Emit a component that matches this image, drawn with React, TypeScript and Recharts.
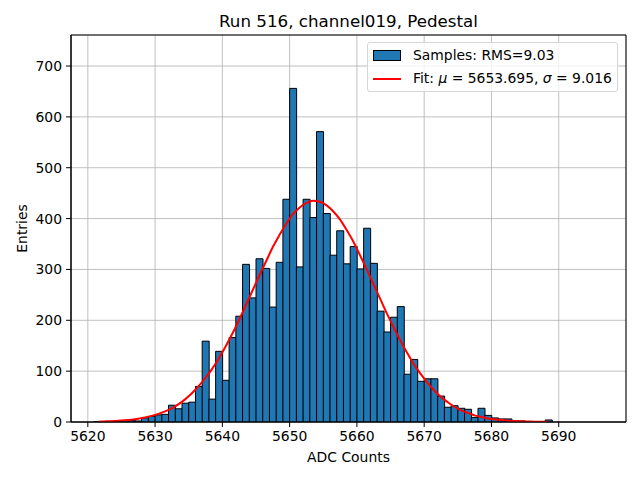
import {
  Bar,
  CartesianGrid,
  ComposedChart,
  Line,
  ReferenceArea,
  XAxis,
  YAxis,
} from 'recharts';

// left edge of each 1-count-wide ADC bin
const binStarts = [
  5621, 5622, 5623, 5624, 5625, 5626, 5627, 5628, 5629, 5630, 5631, 5632, 5633, 5634, 5635, 5636, 5637,
  5638, 5639, 5640, 5641, 5642, 5643, 5644, 5645, 5646, 5647, 5648, 5649, 5650, 5651, 5652, 5653, 5654,
  5655, 5656, 5657, 5658, 5659, 5660, 5661, 5662, 5663, 5664, 5665, 5666, 5667, 5668, 5669, 5670, 5671,
  5672, 5673, 5674, 5675, 5676, 5677, 5678, 5679, 5680, 5681, 5682, 5683, 5684, 5685, 5686, 5687, 5688,
];

const entries = [
  1, 1, 1, 1, 3, 3, 2, 8, 11, 14, 15, 33, 26, 37, 39, 70, 159,
  45, 139, 82, 166, 208, 310, 244, 321, 302, 226, 314, 438, 656, 305, 438, 402, 571,
  410, 328, 376, 311, 345, 301, 381, 312, 218, 177, 206, 227, 94, 123, 80, 85, 85,
  51, 29, 32, 27, 25, 9, 27, 13, 8, 6, 6, 3, 2, 1, 1, 1, 4,
];

// fitted gaussian read at each bin centre
const fitCurve = [
  0.7, 1.1, 1.6, 2.3, 3.3, 4.6, 6.4, 8.8, 12, 16, 21, 27, 35, 45, 57, 71, 87,
  105, 126, 149, 174, 201, 230, 259, 288, 316, 344, 368, 390, 409, 422, 431, 435, 433,
  426, 414, 398, 377, 354, 327, 299, 270, 241, 212, 185, 159, 135, 113, 94, 77, 62,
  49, 39, 30, 23, 18, 13, 10, 7, 5.2, 3.7, 2.6, 1.8, 1.3, 0.9, 0.6, 0.4, 0.3,
];

const xTicks = [5620, 5630, 5640, 5650, 5660, 5670, 5680, 5690];
const yTicks = [0, 100, 200, 300, 400, 500, 600, 700];

const xDomain: [number, number] = [5617.5, 5700];
const yDomain: [number, number] = [0, 761];

const FONT = '"DejaVu Sans", sans-serif';

const rows = binStarts.map((start, i) => ({
  x: start + 0.5,
  entries: entries[i],
  fit: fitCurve[i],
}));

function FitLegend() {
  return (
    <div
      style={{
        position: 'absolute',
        left: 367,
        top: 42,
        boxSizing: 'border-box',
        width: 251,
        height: 50,
        border: '1px solid #d6d6d6',
        borderRadius: 3,
        background: 'rgba(255,255,255,0.8)',
        fontFamily: FONT,
        fontSize: 13.9,
        color: '#000',
        padding: '1px 0 0 5px',
        lineHeight: '23px',
      }}
    >
      <div style={{ display: 'flex', alignItems: 'center' }}>
        <span
          style={{
            display: 'inline-block',
            boxSizing: 'border-box',
            width: 28,
            height: 11,
            background: '#1f77b4',
            border: '1px solid #000',
            marginRight: 12,
          }}
        />
        <span>Samples: RMS=9.03</span>
      </div>
      <div style={{ display: 'flex', alignItems: 'center' }}>
        <span
          style={{
            display: 'inline-block',
            width: 28,
            height: 2,
            background: '#ff0000',
            marginRight: 12,
          }}
        />
        <span>
          Fit: <i>μ</i> = 5653.695, <i>σ</i> = 9.016
        </span>
      </div>
    </div>
  );
}

export default function App() {
  return (
    <div style={{ position: 'fixed', left: 0, top: 0, width: 640, height: 480, background: '#fff' }}>
      <div
        style={{
          position: 'absolute',
          left: 71,
          width: 555,
          top: 11,
          textAlign: 'center',
          fontFamily: FONT,
          fontSize: 16.7,
          color: '#000',
        }}
      >
        Run 516, channel019, Pedestal
      </div>
      <ComposedChart
        width={640}
        height={480}
        data={rows}
        margin={{ top: 35, right: 14, bottom: 0, left: 0 }}
        barCategoryGap={0}
        barGap={0}
      >
        <XAxis
          dataKey="x"
          type="number"
          domain={xDomain}
          ticks={xTicks}
          allowDataOverflow
          height={58}
          tickSize={5}
          tickMargin={4}
          axisLine={{ stroke: '#000' }}
          tickLine={{ stroke: '#000' }}
          tick={{ fill: '#000', fontSize: 13.9, fontFamily: FONT }}
          label={{ value: 'ADC Counts', position: 'center', dy: 6, fill: '#000', fontSize: 13.9, fontFamily: FONT }}
        />
        <YAxis
          type="number"
          domain={yDomain}
          ticks={yTicks}
          allowDataOverflow
          width={71}
          tickSize={5}
          tickMargin={4}
          axisLine={{ stroke: '#000' }}
          tickLine={{ stroke: '#000' }}
          tick={{ fill: '#000', fontSize: 13.9, fontFamily: FONT }}
          label={{ value: 'Entries', angle: -90, position: 'center', dx: -13, fill: '#000', fontSize: 13.9, fontFamily: FONT }}
        />
        <Bar dataKey="entries" fill="#1f77b4" stroke="#000" strokeWidth={1} isAnimationActive={false} />
        <CartesianGrid stroke="#b0b0b0" strokeWidth={0.8} />
        <Line
          dataKey="fit"
          type="monotone"
          stroke="#ff0000"
          strokeWidth={2}
          dot={false}
          activeDot={false}
          isAnimationActive={false}
        />
        <ReferenceArea
          x1={xDomain[0]}
          x2={xDomain[1]}
          y1={yDomain[0]}
          y2={yDomain[1]}
          fill="none"
          fillOpacity={0}
          stroke="#000"
          strokeWidth={1}
          ifOverflow="visible"
        />
      </ComposedChart>
      <FitLegend />
    </div>
  );
}
